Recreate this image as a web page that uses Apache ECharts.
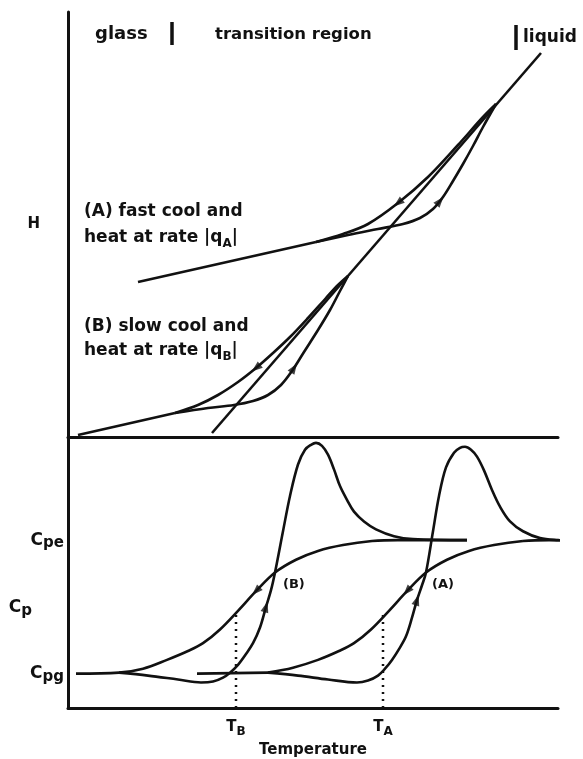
<!DOCTYPE html>
<html><head><meta charset="utf-8">
<script src="https://cdn.jsdelivr.net/npm/echarts@6/dist/echarts.min.js"></script>
<style>html,body{margin:0;padding:0;background:#fff}#c{width:583px;height:759px}</style>
</head><body><div id="c"></div>
<script>
// ---- Upper panel: enthalpy H vs temperature (arbitrary units) ----
const liquidLine = [[144,4],[473,384]];
const glassA = [[70,155],[248,195]];
const coolA = [[248,195],[275,203],[300,213],[330,234],[360,260],[390,292],[415,320],[428,333]];
const heatA = [[248,195],[280,202],[310,208],[335,213],[352,219],[365,228],[375,240],[385,256],[395,273],[405,291],[415,310],[428,333]];
const glassB = [[10,2],[107,24]];
const coolB = [[107,24],[130,32],[150,42],[170,55],[188,69],[205,84],[222,100],[240,119],[258,139],[270,152],[280,161]];
const heatB = [[107,24],[140,29],[166,32],[185,36],[200,42],[213,52],[224,66],[236,85],[250,107],[262,127],[272,146],[280,161]];
const arrowsH = [[330,234],[372,236],[188,69],[226,69]];
const arrowsHRot = [128,-40,129,-33];

// ---- Lower panel: heat capacity Cp vs temperature ----
const cpCoolB = [[8,35],[51,36],[75,40],[99,49],[120,58],[135,66],[152,80],[170,99],[188,119],[207,138],[228,151],[250,160],[275,166],[304,170],[330,171],[399,171]];
const cpHeatB = [[51,36],[80,33],[110,29],[133,26],[145,27],[155,31],[162,36],[170,44],[178,55],[185,66],[192,82],[198,103],[203,120],[207,138],[215,180],[222,216],[230,248],[237,263],[243,268],[248,270],[254,267],[260,258],[266,243],[272,226],[279,212],[286,200],[296,190],[308,182],[326,175],[345,172],[399,171]];
const cpGlassA = [[129,35],[200,36]];
const cpCoolA = [[200,36],[225,41],[250,49],[271,58],[286,66],[303,80],[321,99],[339,119],[358,138],[379,151],[401,160],[426,166],[455,170],[481,171],[515,170]];
const cpHeatA = [[200,36],[230,33],[260,29],[289,26],[300,28],[310,33],[317,40],[324,49],[331,60],[338,73],[344,92],[349,110],[354,125],[358,138],[365,180],[371,216],[378,245],[386,260],[392,265],[397,266],[403,263],[409,256],[416,242],[424,222],[432,205],[442,190],[455,180],[472,173],[490,171],[515,170]];
const arrowsCp = [[188,119],[198,103],[339,119],[349,110]];
const arrowsCpRot = [135,-17,138,-17];
const dropB = [[168,0],[168,98]];
const dropA = [[315,0],[315,96]];
const tempTicks = [168,315];
const tempTickLabels = ['B','A'];
const cpLevels = [35,171];
const cpLevelLabels = ['pg','pe'];

const FONT = '"DejaVu Sans", sans-serif';
const K = '#111';
const LW = 2.6;

function line(data, x, y, extra) {
  return Object.assign({type:'line', xAxisIndex:x, yAxisIndex:y, data:data, showSymbol:false, symbol:'none',
    smooth:0.35, lineStyle:{color:K, width:LW}, clip:false, silent:true, z:3}, extra || {});
}
function arrows(pts, rots, x, y) {
  return {type:'scatter', xAxisIndex:x, yAxisIndex:y, symbol:'triangle', symbolSize:[8,11],
    itemStyle:{color:K}, silent:true, z:5,
    data: pts.map((p,i)=>({value:p, symbolRotate:rots[i]}))};
}

const axisBase = {type:'value', splitLine:{show:false}, axisTick:{show:false}, axisLabel:{show:false},
  axisLine:{show:true, onZero:false, lineStyle:{color:K, width:3}}};

const option = {
  animation:false,
  backgroundColor:'#fff',
  grid:[
    {left:68, top:12, width:490, height:425},
    {left:68, top:437, width:490, height:276}
  ],
  xAxis:[
    Object.assign({}, axisBase, {gridIndex:0, min:0, max:490}),
    Object.assign({}, axisBase, {gridIndex:1, min:0, max:490,
      name:'Temperature', nameLocation:'middle', nameGap:35, nameMoveOverlap:false,
      nameTextStyle:{fontFamily:FONT, fontWeight:'bold', fontSize:15, color:K},
      axisLabel:{show:true, customValues:tempTicks, margin:8,
        formatter:(v)=>'{m|T}{s|'+tempTickLabels[tempTicks.indexOf(v)]+'}',
        rich:{m:{fontFamily:FONT, fontWeight:'bold', fontSize:15, color:K},
              s:{fontFamily:FONT, fontWeight:'bold', fontSize:12, color:K, padding:[10,0,0,0]}}}})
  ],
  yAxis:[
    Object.assign({}, axisBase, {gridIndex:0, min:0, max:425,
      name:'H', nameLocation:'middle', nameGap:28, nameRotate:0,
      nameTextStyle:{fontFamily:FONT, fontWeight:'bold', fontSize:15, color:K}}),
    Object.assign({}, axisBase, {gridIndex:1, min:0, max:276,
      name:'{m|C}{s|p}', nameLocation:'middle', nameGap:36, nameRotate:0, nameMoveOverlap:false,
      nameTextStyle:{padding:[70,0,0,0], rich:{m:{fontFamily:FONT, fontWeight:'bold', fontSize:17, color:K},
              s:{fontFamily:FONT, fontWeight:'bold', fontSize:15, color:K, padding:[8,0,0,0]}}},
      axisLabel:{show:true, customValues:cpLevels, margin:4,
        formatter:(v)=>'{m|C}{s|'+cpLevelLabels[cpLevels.indexOf(v)]+'}',
        rich:{m:{fontFamily:FONT, fontWeight:'bold', fontSize:17, color:K},
              s:{fontFamily:FONT, fontWeight:'bold', fontSize:15, color:K, padding:[6,0,0,0]}}}})
  ],
  graphic:[
    {type:'text', style:{x:95, y:34, text:'glass', font:'bold 18px '+FONT, fill:K, textVerticalAlign:'middle'}},
    {type:'line', shape:{x1:172, y1:22, x2:172, y2:45}, style:{stroke:K, lineWidth:3.5}},
    {type:'text', style:{x:215, y:35, text:'transition region', font:'bold 16.5px '+FONT, fill:K, textVerticalAlign:'middle'}},
    {type:'line', shape:{x1:516, y1:25, x2:516, y2:50}, style:{stroke:K, lineWidth:3.5}},
    {type:'text', style:{x:523, y:38, text:'liquid', font:'bold 17px '+FONT, fill:K, textVerticalAlign:'middle'}},
    {type:'text', style:{x:84, y:212, text:'(A) fast cool and', font:'bold 17px '+FONT, fill:K, textVerticalAlign:'middle'}},
    {type:'text', style:{x:84, y:238, text:'heat at rate |q{s|A}|', font:'bold 17px '+FONT, fill:K, textVerticalAlign:'middle',
      rich:{s:{font:'bold 12px '+FONT, fill:K, padding:[11,0,0,0]}}}},
    {type:'text', style:{x:84, y:327, text:'(B) slow cool and', font:'bold 17px '+FONT, fill:K, textVerticalAlign:'middle'}},
    {type:'text', style:{x:84, y:351, text:'heat at rate |q{s|B}|', font:'bold 17px '+FONT, fill:K, textVerticalAlign:'middle',
      rich:{s:{font:'bold 12px '+FONT, fill:K, padding:[11,0,0,0]}}}},
    {type:'text', style:{x:283, y:585, text:'(B)', font:'bold 13px '+FONT, fill:K, textVerticalAlign:'middle'}},
    {type:'text', style:{x:432, y:585, text:'(A)', font:'bold 13px '+FONT, fill:K, textVerticalAlign:'middle'}}
  ],
  series:[
    line(liquidLine,0,0,{smooth:false}),
    line(glassA,0,0,{smooth:false}),
    line(coolA,0,0),
    line(heatA,0,0),
    line(glassB,0,0,{smooth:false}),
    line(coolB,0,0),
    line(heatB,0,0),
    arrows(arrowsH, arrowsHRot, 0, 0),
    line(cpCoolB,1,1),
    line(cpHeatB,1,1),
    line(cpGlassA,1,1,{smooth:false}),
    line(cpCoolA,1,1),
    line(cpHeatA,1,1),
    line(dropB,1,1,{smooth:false, lineStyle:{color:K, width:2.5, type:[2,5]}}),
    line(dropA,1,1,{smooth:false, lineStyle:{color:K, width:2.5, type:[2,5]}}),
    arrows(arrowsCp, arrowsCpRot, 1, 1)
  ]
};
const chart = echarts.init(document.getElementById('c'), null, {renderer:'canvas'});
chart.setOption(option);
</script></body></html>
